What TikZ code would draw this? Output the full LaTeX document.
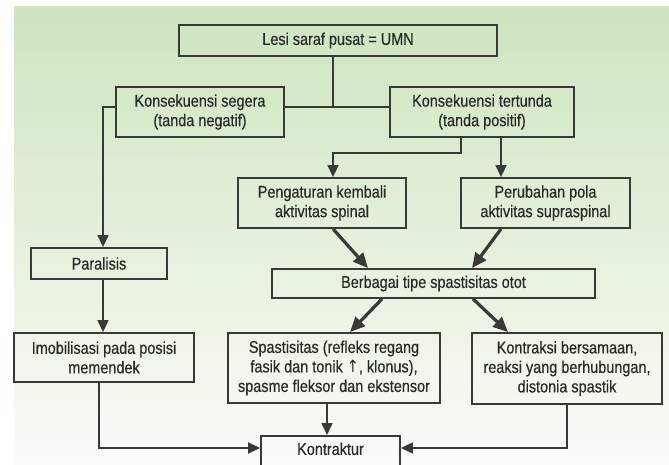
\documentclass[tikz,border=0pt]{standalone}
\usepackage{fontspec}
\setmainfont{Liberation Sans}[FakeStretch=0.85, FakeBold=0.4]
\newfontfamily\arrowfont{DejaVu Sans}[FakeStretch=0.85]
\usepackage{tikz}
\usetikzlibrary{
  arrows.meta,
  calc
}
\definecolor{bg_top}{RGB}{206, 228, 191}
\definecolor{bg_bottom}{RGB}{250, 252, 248}
\definecolor{line_gray}{RGB}{55, 58, 55}
\definecolor{text_gray}{RGB}{40, 42, 40}

\begin{document}
\begin{tikzpicture}[
    % Styles
    x=1pt, y=-1pt,
    font=\fontsize{17}{19.5}\selectfont,
    % Blocks
    block/.style={
        rectangle,
        draw=line_gray,
        line width=1.8pt,
        text=text_gray,
        align=center,
        inner sep=2pt
    },
    conn/.style={
        draw=line_gray,
        line width=1.6pt
    },
    arr/.style={
        conn,
        -{Triangle[length=12pt, width=11pt]}
    },
    bigarr/.style={
        draw=line_gray,
        line width=3.2pt,
        -{Triangle[length=15pt, width=13pt]}
    }
]

% --- FRAME ---
\clip (0,0) rectangle (669,465);
\fill[white] (0,0) rectangle (669,465);
\shade[top color=bg_top, bottom color=bg_bottom] (14,7) rectangle (669,465);

% --- LAYOUT ---

% 1. Top row
\node[block, minimum width=318pt, minimum height=31pt] (lesi) at (338,40.5) {Lesi saraf pusat = UMN};

% 2. Consequences
\node[block, minimum width=168pt, minimum height=50pt] (segera) at (200,112) {Konsekuensi segera\\(tanda negatif)};
\node[block, minimum width=184pt, minimum height=50pt] (tertunda) at (482,112) {Konsekuensi tertunda\\(tanda positif)};

% 3. Spinal / supraspinal
\node[block, minimum width=168pt, minimum height=50pt] (pengaturan) at (322,203) {Pengaturan kembali\\aktivitas spinal};
\node[block, minimum width=169pt, minimum height=50pt] (perubahan) at (545.5,203) {Perubahan pola\\aktivitas supraspinal};

% 4. Middle row
\node[block, minimum width=136pt, minimum height=31pt] (paralisis) at (99,263.5) {Paralisis};
\node[block, minimum width=323pt, minimum height=29pt] (berbagai) at (433.5,283.5) {Berbagai tipe spastisitas otot};

% 5. Lower row
\node[block, minimum width=180pt, minimum height=49pt] (imobilisasi) at (104,357.5) {Imobilisasi pada posisi\\memendek};
\node[block, minimum width=212pt, minimum height=70pt] (spastisitas) at (334,368) {Spastisitas (refleks regang\\fasik dan tonik {\arrowfont ↑}, klonus),\\spasme fleksor dan ekstensor};
\node[block, minimum width=190pt, minimum height=71pt] (kontraksi) at (567,368.5) {Kontraksi bersamaan,\\reaksi yang berhubungan,\\distonia spastik};

% 6. Bottom (runs past the lower edge)
\node[block, anchor=north, minimum width=139pt, text height=12pt, text depth=22pt, inner ysep=7pt] (kontraktur) at (330.5,435) {Kontraktur};

% --- CONNECTORS ---

% Split below the top box
\coordinate (split) at (333,107);
\draw[conn] ([yshift=5pt]segera.east) -- ([yshift=5pt]tertunda.west);
\draw[conn] ([xshift=-5pt]lesi.south) -- (split);

% Left branch
\draw[arr] ([yshift=5pt]segera.west) -| ([xshift=4pt]paralisis.north);
\draw[arr] ([xshift=4pt]paralisis.south) -- ([xshift=4pt]paralisis.south |- imobilisasi.north);

% Right branch
\draw[arr] ([xshift=-21pt]tertunda.south) -- ++(0,15) -| ([xshift=11pt]pengaturan.north);
\draw[arr] ([xshift=19pt]tertunda.south) -- ([xshift=-44.5pt]perubahan.north);

% Into and out of the spasticity box
\draw[bigarr] ([xshift=11pt]pengaturan.south) -- ([xshift=-65.5pt]berbagai.north);
\draw[bigarr] ([xshift=-44.5pt]perubahan.south) -- ([xshift=38.5pt]berbagai.north);
\draw[bigarr] ([xshift=-51.5pt]berbagai.south) -- ([xshift=16pt]spastisitas.north);
\draw[bigarr] ([xshift=39.5pt]berbagai.south) -- ([xshift=-59pt]kontraksi.north);

% Down to the contracture
\draw[arr] ([xshift=-5pt]imobilisasi.south) |- ([yshift=-13pt]kontraktur.north west);
\draw[arr] ([xshift=-7pt]spastisitas.south) -- ([xshift=-3.5pt]kontraktur.north);
\draw[arr] (kontraksi.south) |- ([yshift=-13pt]kontraktur.north east);

\end{tikzpicture}
\end{document}
